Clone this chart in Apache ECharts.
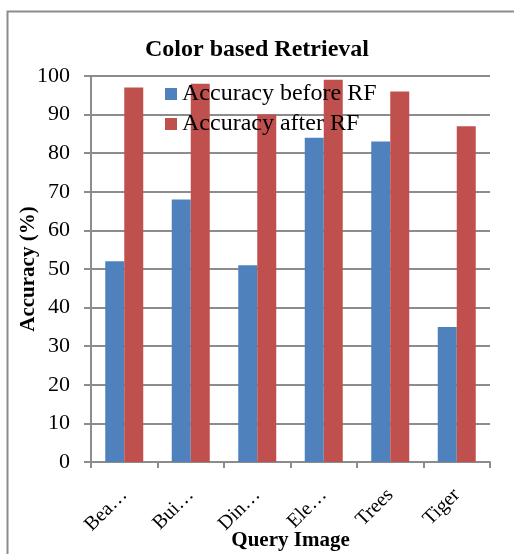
<!DOCTYPE html>
<html>
  <head>
    <meta charset="utf-8" />
    <title>Color based Retrieval</title>
    <script src="https://cdn.jsdelivr.net/npm/echarts@6/dist/echarts.min.js"></script>
    <style>
      html, body { margin: 0; padding: 0; background: #fff; }
    </style>
  </head>
  <body>
    <div id="main" style="width: 514px;height:554px;"></div>
    <script type="text/javascript">
        // 数据 (labels as they appear, truncated by the original chart)
        var categories = ['Bea\u2026', 'Bui\u2026', 'Din\u2026', 'Ele\u2026', 'Trees', 'Tiger'];
        var beforeRF = [52, 68, 51, 84, 83, 35];
        var afterRF = [97, 98, 90, 99, 96, 87];
        var yTicks = [0, 10, 20, 30, 40, 50, 60, 70, 80, 90, 100];

        var serif = '"Liberation Serif", "Times New Roman", serif';

        var myChart = echarts.init(document.getElementById('main'));

        var option = {
            animation: false,
            backgroundColor: '#fff',
            title: {
                text: 'Color based Retrieval',
                left: 'center',
                top: 33,
                textStyle: { fontFamily: serif, fontSize: 24, fontWeight: 'bold', color: '#000' }
            },
            legend: {
                orient: 'vertical',
                left: 160,
                top: 77,
                itemWidth: 12,
                itemHeight: 12,
                itemGap: 6,
                icon: 'rect',
                textStyle: { fontFamily: serif, fontSize: 24, color: '#000' },
                data: ['Accuracy before RF', 'Accuracy after RF']
            },
            grid: { left: 91, right: 24, top: 76, bottom: 92, containLabel: false, outerBoundsMode: 'none' },
            xAxis: {
                type: 'category',
                data: categories,
                name: 'Query Image',
                nameLocation: 'middle',
                nameGap: 68,
                nameMoveOverlap: false,
                nameTextStyle: { fontFamily: serif, fontSize: 21, fontWeight: 'bold', color: '#000' },
                axisLine: { lineStyle: { color: '#8c8c8c', width: 2 } },
                axisTick: { show: true, length: 6, lineStyle: { color: '#8c8c8c', width: 2 } },
                axisLabel: {
                    rotate: 45,
                    margin: 30,
                    fontFamily: serif,
                    fontSize: 20,
                    color: '#000'
                }
            },
            yAxis: {
                type: 'value',
                min: yTicks[0],
                max: yTicks[yTicks.length - 1],
                interval: 10,
                name: 'Accuracy (%)',
                nameLocation: 'middle',
                nameGap: 52,
                nameMoveOverlap: false,
                nameTextStyle: { fontFamily: serif, fontSize: 21, fontWeight: 'bold', color: '#000' },
                axisLine: { show: true, lineStyle: { color: '#8c8c8c', width: 2 } },
                axisTick: { show: true, length: 7, lineStyle: { color: '#8c8c8c', width: 2 } },
                splitLine: { show: true, lineStyle: { color: '#8c8c8c', width: 2 } },
                axisLabel: { margin: 21, fontFamily: serif, fontSize: 22, color: '#000' }
            },
            graphic: [{
                type: 'rect',
                silent: true,
                z: -1,
                shape: { x: 7.5, y: 11.5, width: 700, height: 700 },
                style: { fill: 'none', stroke: '#8c8c8c', lineWidth: 2 }
            }],
            series: [{
                name: 'Accuracy before RF',
                type: 'bar',
                barWidth: 19,
                barGap: '0%',
                itemStyle: { color: '#4F81BD' },
                data: beforeRF
            }, {
                name: 'Accuracy after RF',
                type: 'bar',
                barWidth: 19,
                barGap: '0%',
                itemStyle: { color: '#C0504D' },
                data: afterRF
            }]
        };

        myChart.setOption(option);
    </script>
  </body>
</html>
